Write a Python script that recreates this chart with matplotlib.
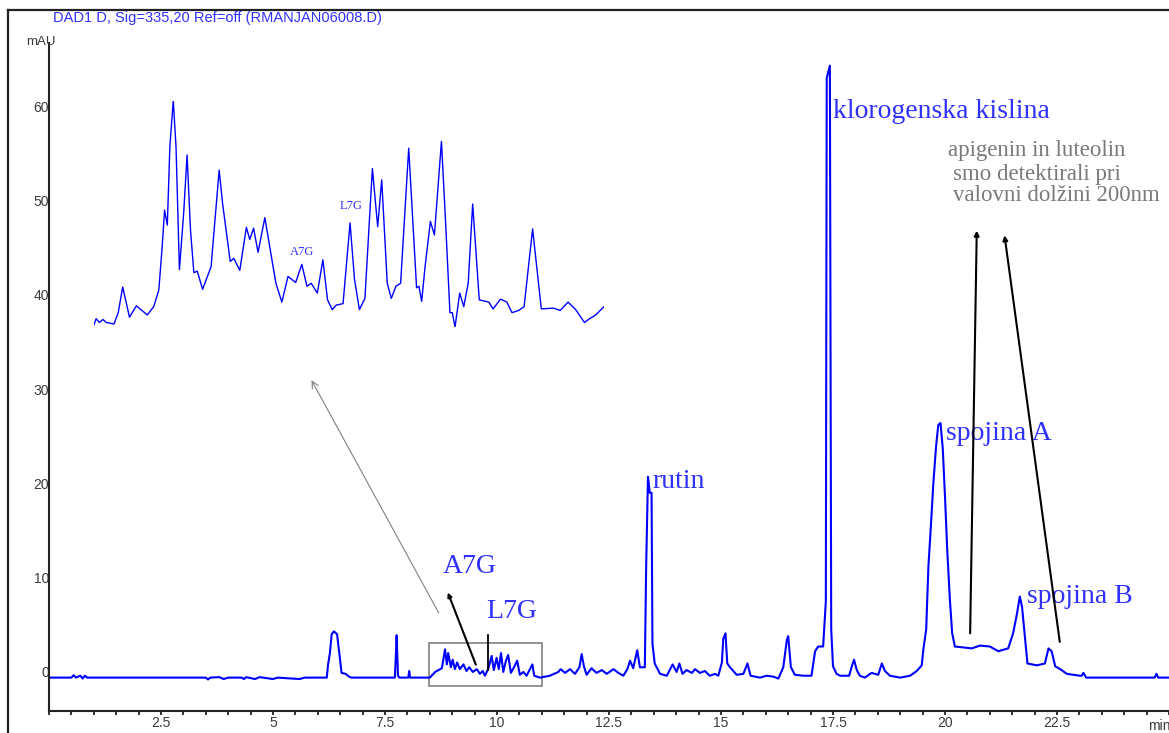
import numpy as np
import matplotlib
matplotlib.use('Agg')
import matplotlib.pyplot as plt
from matplotlib.patches import Rectangle
from matplotlib.ticker import MultipleLocator

# chromatogram trace (min, mAU)
time_min = [0.0, 0.5, 0.55, 0.6, 0.7, 0.75, 0.8, 0.85, 3.5, 3.55, 3.6, 3.8, 3.9, 4.0, 4.3, 4.35,
            4.4, 4.6, 4.7, 5.0, 5.1, 5.6, 5.7,
            6.2, 6.23, 6.27, 6.31, 6.36, 6.43, 6.48, 6.53, 6.62, 6.7, 6.75,
            7.72, 7.74, 7.76, 7.79, 7.82, 8.02, 8.04, 8.06,
            8.5, 8.62, 8.77, 8.84, 8.88, 8.91, 8.97, 9.01, 9.06, 9.11, 9.17, 9.25, 9.32, 9.38,
            9.46, 9.55, 9.62, 9.68, 9.73, 9.81, 9.88, 9.93, 9.99, 10.04, 10.09, 10.14, 10.2,
            10.25, 10.31, 10.38, 10.45, 10.51, 10.59, 10.66, 10.79, 10.83, 10.96, 11.18,
            11.37, 11.42, 11.52, 11.63, 11.74, 11.84, 11.89, 11.94, 12.0, 12.11, 12.22, 12.34,
            12.45, 12.6, 12.71, 12.82, 12.91, 12.97, 13.04, 13.13, 13.19, 13.3,
            13.33, 13.37, 13.41, 13.45, 13.47, 13.52, 13.64, 13.79, 13.92, 14.01, 14.07,
            14.14, 14.23, 14.35, 14.42, 14.53, 14.64, 14.75, 14.87, 14.94, 15.02, 15.05,
            15.1, 15.14, 15.2, 15.35, 15.5, 15.59, 15.66, 15.87, 16.02, 16.17, 16.28, 16.39,
            16.47, 16.5, 16.56, 16.65, 16.84, 17.02, 17.1, 17.17, 17.28, 17.34, 17.36, 17.43,
            17.46, 17.5, 17.58, 17.66, 17.86, 17.92, 17.97, 18.03, 18.1, 18.21, 18.36, 18.51,
            18.59, 18.66, 18.77, 19.0, 19.22, 19.37, 19.48, 19.52, 19.58, 19.63, 19.68, 19.74,
            19.8, 19.85, 19.9, 19.95, 20.0, 20.05, 20.11, 20.16, 20.22, 20.6, 20.78, 21.0,
            21.19, 21.41, 21.52, 21.6, 21.67, 21.72, 21.79, 21.84, 22.05, 22.23, 22.31, 22.38,
            22.46, 22.57, 22.72, 23.01, 23.05, 23.09, 23.15, 24.68, 24.72, 24.76, 25.0]
signal_mau = [-0.6, -0.6, -0.35, -0.6, -0.4, -0.7, -0.4, -0.6, -0.6, -0.8, -0.6, -0.55, -0.75, -0.6, -0.6, -0.75,
              -0.55, -0.75, -0.55, -0.75, -0.6, -0.75, -0.6,
              -0.6, 0.8, 2.0, 4.0, 4.3, 4.0, 2.0, -0.1, -0.2, -0.5, -0.6,
              -0.6, 1.5, 3.9, -0.4, -0.6, -0.6, 0.1, -0.6,
              -0.6, 0.0, 0.4, 2.4, 0.8, 2.0, 0.5, 1.3, 0.3, 1.0, 0.3, 0.8, 0.1, 0.5,
              0.0, 0.3, -0.2, 0.1, -0.4, 0.4, 1.7, 0.2, 1.5, 0.3, 2.0, 0.0, 1.2,
              1.8, -0.1, 0.5, 1.2, -0.3, 0.0, -0.4, 0.8, -0.4, -0.6, -0.4,
              0.0, 0.3, -0.1, 0.3, -0.2, 0.5, 1.9, 0.6, -0.3, 0.4, -0.1, 0.2,
              -0.2, 0.3, -0.1, -0.4, 0.3, 1.2, 0.4, 2.3, 0.5, 0.5,
              11.3, 20.7, 19.0, 19.0, 3.0, 0.9, -0.2, -0.4, 0.8, 0.0, 0.9,
              -0.2, 0.2, -0.1, 0.3, -0.1, 0.1, -0.4, -0.2, -0.4, 1.0, 3.5,
              4.1, 0.9, 0.5, -0.3, -0.2, 0.9, -0.4, -0.6, -0.4, -0.5, -0.7, 0.5,
              3.4, 3.8, 0.5, -0.3, -0.4, -0.4, 2.2, 2.7, 2.7, 7.5, 63.0, 64.3,
              4.5, 0.6, -0.2, -0.4, -0.4, 0.6, 1.3, 0.2, -0.4, -0.6, -0.1, -0.3,
              0.9, 0.1, -0.4, -0.6, -0.4, 0.1, 0.7, 2.5, 4.5, 11.2, 15.1, 20.0,
              23.9, 26.2, 26.4, 23.7, 18.6, 12.9, 7.6, 4.1, 2.7, 2.5, 2.8, 2.7,
              2.2, 2.5, 4.1, 6.0, 8.0, 6.9, 3.4, 0.9, 0.7, 0.9, 2.5, 2.2,
              0.6, 0.3, -0.2, -0.4, -0.4, -0.1, -0.6, -0.6, -0.2, -0.6, -0.6]

# magnified part of the trace (8.5 - 10.9 min)
inset_time = [8.5, 8.51, 8.526, 8.542, 8.558, 8.594, 8.614, 8.635, 8.667, 8.699, 8.751, 8.781,
              8.805, 8.821, 8.832, 8.845, 8.857, 8.873, 8.886, 8.902, 8.922, 8.938, 8.954, 8.97,
              8.986, 9.011, 9.051, 9.072, 9.089, 9.105, 9.141, 9.158, 9.186, 9.217, 9.233, 9.251,
              9.272, 9.304, 9.332, 9.356, 9.384, 9.413, 9.449, 9.478, 9.502, 9.522, 9.551, 9.577,
              9.599, 9.621, 9.64, 9.672, 9.705, 9.726, 9.749, 9.775, 9.81, 9.835, 9.854, 9.88,
              9.899, 9.921, 9.943, 9.981, 10.018, 10.029, 10.042, 10.058, 10.083, 10.102, 10.135,
              10.154, 10.175, 10.186, 10.199, 10.221, 10.24, 10.261, 10.282, 10.313, 10.358,
              10.378, 10.413, 10.443, 10.467, 10.499, 10.524, 10.564, 10.605, 10.662, 10.694,
              10.731, 10.767, 10.808, 10.832, 10.861, 10.9]
inset_signal = [-0.47, -0.39, -0.44, -0.40, -0.44, -0.46, -0.31, 0.03, -0.37, -0.22, -0.34, -0.23,
                -0.01, 0.57, 1.05, 0.85, 1.89, 2.50, 1.89, 0.26, 1.01, 1.78, 0.79, 0.22,
                0.24, 0.00, 0.30, 1.01, 1.58, 1.14, 0.37, 0.41, 0.25, 0.82, 0.66, 0.81,
                0.49, 0.95, 0.48, 0.08, -0.17, 0.17, 0.09, 0.33, 0.04, 0.08, -0.05, 0.39,
                -0.14, -0.27, -0.21, -0.19, 0.88, 0.13, -0.27, -0.12, 1.60, 0.83, 1.45, 0.08,
                -0.12, 0.04, 0.08, 1.87, 0.02, 0.04, -0.16, 0.30, 0.90, 0.72, 1.96,
                0.92, -0.31, -0.31, -0.50, -0.05, -0.23, 0.08, 1.13, -0.14, -0.17,
                -0.26, -0.13, -0.17, -0.31, -0.28, -0.23, 0.80, -0.26, -0.25, -0.28,
                -0.17, -0.27, -0.44, -0.39, -0.34, -0.23]

title = 'DAD1 D, Sig=335,20 Ref=off (RMANJAN06008.D)'
note_lines = ['apigenin in luteolin', 'smo detektirali pri', 'valovni dolžini 200nm']

blue = '#0000ff'
txt_blue = '#3030ff'
serif = 'Liberation Serif'
sans = 'Liberation Sans'

W, H = 1169, 733
fig = plt.figure(figsize=(W / 100, H / 100), dpi=100)

# outer frame of the exported report
fig.add_artist(plt.Line2D([8 / W, 8 / W], [0, 1 - 10 / H], color='#222222', lw=1.6))
fig.add_artist(plt.Line2D([8 / W, 1], [1 - 10 / H, 1 - 10 / H], color='#222222', lw=1.6))

ax = fig.add_axes([49 / W, 22 / H, (W - 49) / W, 668 / H])
ax.plot(time_min, signal_mau, color=blue, lw=1.5)
ax.set_xlim(0, 25.0)
ax.set_ylim(-4.14, 66.7)

for s in ['top', 'right']:
    ax.spines[s].set_visible(False)
for s in ['left', 'bottom']:
    ax.spines[s].set_linewidth(1.5)
    ax.spines[s].set_color('#222222')

ax.xaxis.set_minor_locator(MultipleLocator(0.5))
ax.set_xticks(np.arange(2.5, 25, 2.5))
ax.set_xticklabels(['2.5', '5', '7.5', '10', '12.5', '15', '17.5', '20', '22.5'])
ax.set_yticks(np.arange(0, 61, 10))
ax.tick_params(axis='x', which='both', direction='out', length=3, width=1.3, color='#222222',
               labelsize=10, labelcolor='#3a3a3a', pad=0.5)
ax.tick_params(axis='y', length=0, pad=0, labelsize=10, labelcolor='#3a3a3a')
for lab in ax.get_xticklabels() + ax.get_yticklabels():
    lab.set_fontfamily(sans)

fig.text(26 / W, 1 - 42 / H, 'mAU', fontsize=9.5, family=sans, color='#3a3a3a', va='center')
fig.text(1148 / W, 1 - 726 / H, 'min', fontsize=10, family=sans, color='#3a3a3a', va='center')
fig.text(53 / W, 1 - 18 / H, title, fontsize=10.5, family=sans, color=txt_blue, va='center')

# peak labels
ax.text(8.79, 11.2, 'A7G', fontsize=20, family=serif, color=txt_blue, va='center')
ax.text(9.75, 6.4, 'L7G', fontsize=20, family=serif, color=txt_blue, va='center')
ax.text(13.48, 20.2, 'rutin', fontsize=20, family=serif, color=txt_blue, va='center')
ax.text(17.5, 59.4, 'klorogenska kislina', fontsize=20, family=serif, color=txt_blue, va='center')
ax.text(20.03, 25.3, 'spojina A', fontsize=20, family=serif, color=txt_blue, va='center')
ax.text(21.82, 8.0, 'spojina B', fontsize=20, family=serif, color=txt_blue, va='center')
for line, yv, xv in zip(note_lines, [55.3, 52.8, 50.5], [20.07, 20.18, 20.18]):
    ax.text(xv, yv, line, fontsize=16.5, family=serif, color='#7a7a7a', va='center')

# box around the magnified region and pointers
ax.add_patch(Rectangle((8.48, -1.48), 2.52, 4.56, fill=False, edgecolor='#808080', lw=1.2))
ax.annotate('', xy=(5.83, 31.2), xytext=(8.73, 6.0),
            arrowprops=dict(arrowstyle='->', color='#808080', lw=0.8, mutation_scale=12))
ax.annotate('', xy=(8.88, 8.7), xytext=(9.55, 0.5),
            arrowprops=dict(arrowstyle='-|>', color='black', lw=1.5, mutation_scale=6))
ax.plot([9.8, 9.8], [0.2, 3.9], color='black', lw=1.3)
ax.annotate('', xy=(20.71, 47.1), xytext=(20.56, 3.8),
            arrowprops=dict(arrowstyle='-|>', color='black', lw=1.5, mutation_scale=7))
ax.annotate('', xy=(21.32, 46.6), xytext=(22.57, 2.9),
            arrowprops=dict(arrowstyle='-|>', color='black', lw=1.5, mutation_scale=7))

# inset with the magnified trace
axi = fig.add_axes([94 / W, 1 - 327 / H, 510 / W, 226.3 / H])
axi.plot(inset_time, inset_signal, color=blue, lw=1.0)
axi.set_xlim(8.5, 10.9)
axi.set_ylim(-0.5, 2.5)
axi.axis('off')
axi.patch.set_alpha(0)
axi.text(9.477, 0.5, 'A7G', fontsize=9, family=serif, color=txt_blue, ha='center', va='center')
axi.text(9.712, 1.1, 'L7G', fontsize=9, family=serif, color=txt_blue, ha='center', va='center')

fig.savefig('out.png', dpi=100)
